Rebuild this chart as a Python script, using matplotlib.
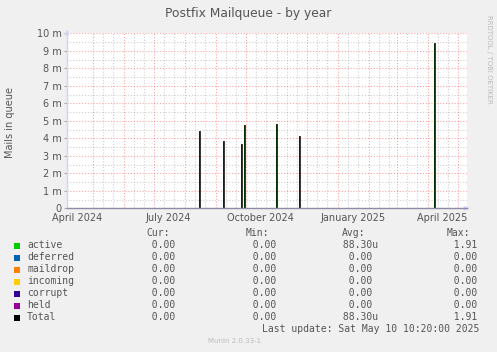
import numpy as np
import pandas as pd
import matplotlib
matplotlib.use('Agg')
import matplotlib.pyplot as plt

# time window of the munin "by year" graph
start = pd.Timestamp('2024-04-05 10:20')
end = pd.Timestamp('2025-05-10 10:20')

# days with queued mail (values in mails)
spike_dates = ['2024-08-15', '2024-09-08', '2024-09-26', '2024-09-29',
               '2024-10-31', '2024-11-23', '2025-04-07']
spike_values = [4.42e-3, 3.85e-3, 3.69e-3, 4.78e-3, 4.82e-3, 4.15e-3, 9.46e-3]

x_labels = ['April 2024', 'July 2024', 'October 2024', 'January 2025', 'April 2025']
x_label_months = ['2024-04-01', '2024-07-01', '2024-10-01', '2025-01-01', '2025-04-01']

y_ticks = [0, 1e-3, 2e-3, 3e-3, 4e-3, 5e-3, 6e-3, 7e-3, 8e-3, 9e-3, 10e-3]
y_labels = ['0', '1 m', '2 m', '3 m', '4 m', '5 m', '6 m', '7 m', '8 m', '9 m', '10 m']

names = ['active', 'deferred', 'maildrop', 'incoming', 'corrupt', 'held', 'Total']
colors = ['#00CC00', '#0066B3', '#FF8000', '#FFCC00', '#330099', '#990099', '#000000']
cur_vals = [0, 0, 0, 0, 0, 0, 0]
min_vals = [0, 0, 0, 0, 0, 0, 0]
avg_vals = [88.30e-6, 0, 0, 0, 0, 0, 88.30e-6]
max_vals = [1.91, 0, 0, 0, 0, 0, 1.91]

W, H = 497, 352
TXT = '#555555'
MGRID = (1, 0, 0, 0.35)
GRID = (0.55, 0.55, 0.55, 0.4)
DOT = (0, (1, 1.6))


def fx(x):
    return x / W


def fy(y):
    return 1 - y / H


def fmt(v):
    if v != 0 and abs(v) < 1e-3:
        return '%6.2fu' % (v * 1e6)
    return '%6.2f ' % v


days = pd.date_range(start.normalize(), end.normalize(), freq='D')
active = pd.Series(0.0, index=days)
for d, v in zip(spike_dates, spike_values):
    active[pd.Timestamp(d)] = v
total = active.copy()

fig = plt.figure(figsize=(W / 100, H / 100), dpi=100)
fig.patch.set_facecolor('#F0F0F0')
ax = fig.add_axes([fx(67), fy(208.3), 400 / W, 175 / H])
ax.set_facecolor('white')

# grid: red at month starts, grey on the 11th and 21st
for m in pd.date_range('2024-05-01', '2025-05-01', freq='MS'):
    ax.axvline(m, color=MGRID, lw=0.8, ls=DOT, zorder=1)
    for dd in (10, 20):
        mm = m + pd.Timedelta(days=dd)
        if mm < end:
            ax.axvline(mm, color=GRID, lw=0.8, ls=DOT, zorder=1)
for i in range(len(y_ticks)):
    ax.axhline(y_ticks[i], color=MGRID, lw=0.8, ls=DOT, zorder=1)
    if i < len(y_ticks) - 1:
        ax.axhline((y_ticks[i] + y_ticks[i + 1]) / 2, color=GRID, lw=0.8, ls=DOT, zorder=1)

ax.fill_between(active.index, active.values, step='post', color='#00CC00', lw=0, zorder=2)
ax.step(total.index, total.values, where='post', color='black', lw=0.55, zorder=3)

ax.set_xlim(start, end)
ax.set_ylim(0, 0.010)
ax.set_yticks(y_ticks)
ax.set_yticklabels(y_labels)
ax.set_xticks([pd.Timestamp(m) + pd.Timedelta(days=15) for m in x_label_months])
ax.set_xticklabels(x_labels)
ax.tick_params(axis='y', length=2, width=0.8, color='#AAAAAA', pad=2, labelsize=7, labelcolor=TXT)
ax.tick_params(axis='x', length=0, pad=3.5, labelsize=7, labelcolor=TXT)

for s in ['top', 'right']:
    ax.spines[s].set_visible(False)
ax.spines['left'].set_color('#CFD6F8')
ax.spines['bottom'].set_color('#8C8CA8')
ax.spines['left'].set_linewidth(1)
ax.spines['bottom'].set_linewidth(1)
ax.spines['bottom'].set_zorder(4)

# axis arrows
ax.annotate('', xy=(0, 1.035), xytext=(0, 0.99), xycoords='axes fraction',
            arrowprops=dict(arrowstyle='-|>', color='#CFD6F8', lw=1, mutation_scale=6),
            annotation_clip=False)
ax.annotate('', xy=(1.012, 0), xytext=(0.995, 0), xycoords='axes fraction',
            arrowprops=dict(arrowstyle='-|>', color='#CFD6F8', lw=1, mutation_scale=6),
            annotation_clip=False)

fig.text(fx(248.5), fy(13), 'Postfix Mailqueue - by year', ha='center', va='center',
         fontsize=8.8, color=TXT)
fig.text(fx(10), fy(123), 'Mails in queue', rotation=90, ha='center', va='center',
         fontsize=7, color=TXT)
fig.text(fx(489), fy(59), 'RRDTOOL / TOBI OETIKER', rotation=270, ha='center', va='center',
         fontsize=5, color='#BBBBBB')

# legend table
mono = 'DejaVu Sans Mono'
hy = 233
fig.text(fx(146), fy(hy), 'Cur:', family=mono, fontsize=7, color=TXT, va='center')
fig.text(fx(246), fy(hy), 'Min:', family=mono, fontsize=7, color=TXT, va='center')
fig.text(fx(342), fy(hy), 'Avg:', family=mono, fontsize=7, color=TXT, va='center')
fig.text(fx(447), fy(hy), 'Max:', family=mono, fontsize=7, color=TXT, va='center')
for i in range(len(names)):
    y = 245.5 + 12 * i
    fig.patches.append(plt.Rectangle((fx(14), fy(y + 3)), 6 / W, 6 / H, transform=fig.transFigure,
                                     facecolor=colors[i], edgecolor='none'))
    fig.text(fx(27), fy(y), names[i], family=mono, fontsize=7, color=TXT, va='center')
    fig.text(fx(140.2), fy(y), fmt(cur_vals[i]), family=mono, fontsize=7, color=TXT, va='center')
    fig.text(fx(240.9), fy(y), fmt(min_vals[i]), family=mono, fontsize=7, color=TXT, va='center')
    fig.text(fx(337.4), fy(y), fmt(avg_vals[i]), family=mono, fontsize=7, color=TXT, va='center')
    fig.text(fx(441.5), fy(y), fmt(max_vals[i]), family=mono, fontsize=7, color=TXT, va='center')

fig.text(fx(262), fy(329), 'Last update: Sat May 10 10:20:00 2025', family=mono, fontsize=7,
         color=TXT, va='center')
fig.text(fx(234.5), fy(341), 'Munin 2.0.33-1', ha='center', va='center', fontsize=5,
         color='#BBBBBB')

fig.savefig('out.png', dpi=100, facecolor=fig.get_facecolor())
